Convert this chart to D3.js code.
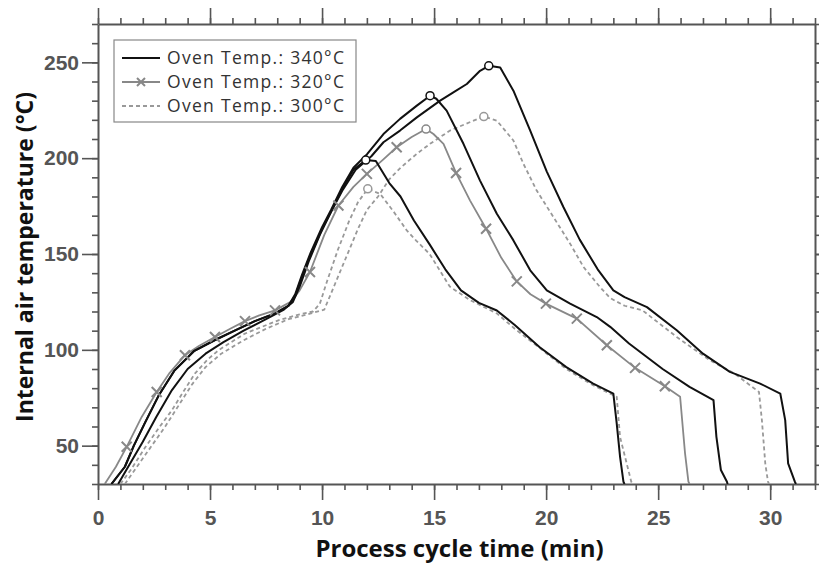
<!DOCTYPE html>
<html>
<head>
<meta charset="utf-8">
<script src="https://cdn.jsdelivr.net/npm/d3@7"></script>
<style>
  body { margin: 0; background: #fff; }
  svg { display: block; }
</style>
</head>
<body>
<svg id="chart"></svg>
<script>
// process cycle time (min), internal air temperature (degC)
var run340a = [[0.6,30],[1.2,39],[1.6,50],[2.1,62],[2.7,76],[3.4,89],[4.3,99.5],[5.2,105],[6.1,110],[7.0,115],[7.9,119],[8.5,123],[8.8,128],[9.1,138],[9.5,150],[10.0,163],[10.4,172],[10.9,184],[11.4,194],[11.95,199],[12.4,198.5],[13.0,187],[13.5,180],[14.1,167.5],[14.8,155],[15.5,142],[16.2,131],[17.0,124.5],[17.8,120.5],[18.6,113],[19.7,101.5],[20.9,91],[22.1,82.4],[23.0,77.2],[23.15,61.6],[23.3,44.2],[23.45,31.2],[23.5,30]];
var run340b = [[0.6,30],[1.2,39],[1.6,50],[2.1,62],[2.7,76],[3.4,89],[4.3,99.5],[5.2,105],[6.1,110],[7.0,115],[7.9,119],[8.5,123],[8.8,129],[9.1,139],[9.5,151],[10.0,164],[10.4,173],[10.9,185],[11.4,195],[12.0,202],[12.74,212.6],[13.48,220.5],[14.23,227.4],[14.82,232.6],[15.1,231],[15.56,224.8],[16.31,207.5],[17.05,188.3],[17.8,171],[18.54,157.1],[19.29,141.5],[20.03,131],[21.07,124.1],[22.26,117.1],[22.86,112],[23.7,103.3],[25.2,90],[26.4,80.7],[27.47,73.8],[27.6,54.6],[27.8,37.3],[28.07,31.2],[28.1,30]];
var run340c = [[0.9,30],[1.4,40],[2.0,52],[2.6,65],[3.3,79],[4.0,90],[4.8,98],[5.6,104],[6.5,110],[7.5,116],[8.3,121],[8.7,125],[9.0,133],[9.4,146],[9.9,160],[10.4,172],[10.9,183],[11.5,194],[12.2,201],[12.74,208.3],[13.48,214.4],[14.23,221.3],[15.27,230],[15.86,234.3],[16.46,238.7],[17.05,245.6],[17.44,248.2],[17.95,247.3],[18.54,235.2],[19.29,214.4],[20.03,193],[20.77,174.5],[21.5,157.5],[22.3,142],[23.0,131],[23.5,127.5],[24.5,122.3],[25.83,110.2],[27.0,98],[28.2,88.5],[29.55,82.4],[30.45,77.2],[30.67,63.3],[30.8,40.8],[31.1,31.2],[31.15,30]];
var run320 = [[0.3,30],[0.8,39],[1.28,49.4],[1.95,65],[2.62,78],[3.2,88],[3.88,97.2],[4.5,102],[5.22,106.7],[5.9,111],[6.56,115],[7.2,118],[7.9,120.6],[8.6,125],[9.0,131],[9.46,140.6],[10.1,160],[10.73,175.3],[11.4,185],[12.0,191.8],[12.7,199],[13.33,205.7],[14.0,211],[14.64,215.2],[14.97,212.6],[15.42,207.5],[15.98,192.3],[16.6,178],[17.32,163.2],[18.0,148],[18.69,135.7],[19.3,129],[19.99,124.1],[21.37,116.3],[22.71,102.4],[23.97,90.6],[25.3,81],[25.98,75.5],[26.2,46],[26.35,31.2],[26.4,30]];
var marks320 = [[1.28,49.4],[2.62,78],[3.88,97.2],[5.22,106.7],[6.56,115],[7.9,120.6],[9.46,140.6],[10.73,175.3],[12.0,191.8],[13.33,205.7],[15.98,192.3],[17.32,163.2],[18.69,135.7],[19.99,124.1],[21.37,116.3],[22.71,102.4],[23.97,90.6],[25.3,81]];
var run300a = [[1.0,30],[1.5,38],[2.1,49],[2.7,59],[3.3,68.5],[3.8,78],[4.33,87.7],[4.9,95],[5.4,100],[6.56,108.5],[8.05,115.4],[9.0,118.5],[9.6,120],[9.9,124],[10.2,135],[10.7,152],[11.2,167],[11.6,177],[12.04,184],[12.59,181.4],[13.2,172],[13.78,162.3],[14.2,157],[14.8,150],[15.7,133],[16.6,126],[17.8,119],[18.6,111],[19.6,102],[20.9,90],[22.1,81.5],[23.15,75.5],[23.3,54.5],[23.8,31.2],[23.85,30]];
var run300b = [[1.2,30],[1.8,40],[2.4,50],[3.0,60],[3.6,71],[4.2,82],[4.8,91],[5.5,98],[6.5,105],[7.5,111],[8.5,116],[9.5,119],[10.1,121],[10.6,135],[11.1,149],[11.6,163],[12.0,173],[12.5,180],[13.0,189],[13.5,195],[14.2,202],[14.82,207.5],[15.71,214.4],[16.76,219.6],[17.22,221.7],[17.8,219.6],[18.54,209.2],[18.99,197],[19.58,183.1],[20.33,169.2],[21.07,155.4],[21.67,143.2],[22.4,132.8],[22.86,127],[23.5,123],[24.3,120.6],[25.83,106.7],[27.3,94.6],[28.4,87.7],[29.5,78],[29.63,63.3],[29.78,40.8],[29.9,31.2],[29.95,30]];

var xMajor = [0, 5, 10, 15, 20, 25, 30];
var yMajor = [50, 100, 150, 200, 250];
var legendLabels = ["Oven Temp.: 340\u00B0C", "Oven Temp.: 320\u00B0C", "Oven Temp.: 300\u00B0C"];

var width = 819, height = 563;
var margin = { top: 24, right: 4, bottom: 79, left: 98 };

var svg = d3.select("#chart")
    .attr("width", width)
    .attr("height", height)
    .style("font-family", "'Open Sans', 'DejaVu Sans', sans-serif");

var x = d3.scaleLinear().domain([0, 32]).range([margin.left, width - margin.right]);
var y = d3.scaleLinear().domain([30, 270]).range([height - margin.bottom, margin.top]);

var xMinor = d3.range(0, 33, 1);
var yMinor = d3.range(30, 271, 10);

// clip for the curves
svg.append("clipPath").attr("id", "plotclip")
    .append("rect")
    .attr("x", x(0)).attr("y", y(270))
    .attr("width", x(32) - x(0)).attr("height", y(30) - y(270));

function styleAxis(g)
{
    g.select(".domain").attr("stroke", "#555").attr("stroke-width", 2);
    g.selectAll(".tick line").attr("stroke", "#555").attr("stroke-width", 1.6);
    g.selectAll(".tick text")
        .attr("fill", "#555")
        .style("font-size", "21px")
        .style("font-weight", "700");
}

// minor + major ticks on all four sides
var axes = [
    { ax: d3.axisBottom(x), tr: "translate(0," + y(30) + ")", minor: xMinor, major: xMajor, labels: true, pad: 10 },
    { ax: d3.axisTop(x), tr: "translate(0," + y(270) + ")", minor: xMinor, major: xMajor, labels: false, pad: 4 },
    { ax: d3.axisLeft(y), tr: "translate(" + x(0) + ",0)", minor: yMinor, major: yMajor, labels: true, pad: 3 },
    { ax: d3.axisRight(y), tr: "translate(" + x(32) + ",0)", minor: yMinor, major: yMajor, labels: false, pad: 4 }
];

axes.forEach(function(a)
{
    var gm = svg.append("g").attr("transform", a.tr)
        .call(a.ax.tickValues(a.minor).tickSize(6).tickSizeOuter(0).tickFormat(""));
    styleAxis(gm);

    a.ax.tickValues(a.major).tickSize(16).tickSizeOuter(0)
        .tickFormat(a.labels ? d3.format("d") : "")
        .tickPadding(a.pad);
    var gM = svg.append("g").attr("transform", a.tr).call(a.ax);
    styleAxis(gM);
    gM.select(".domain").remove();
});

// axis titles
svg.append("text")
    .attr("x", (x(0) + x(32)) / 2 + 3)
    .attr("y", 557)
    .attr("text-anchor", "middle")
    .style("font-size", "24px")
    .style("font-weight", "700")
    .attr("fill", "#111")
    .text("Process cycle time (min)");

svg.append("text")
    .attr("transform", "translate(33," + ((y(30) + y(270)) / 2 + 3) + ") rotate(-90)")
    .attr("text-anchor", "middle")
    .style("font-size", "23px")
    .style("font-weight", "700")
    .attr("fill", "#111")
    .text("Internal air temperature (\u00B0C)");

var line = d3.line()
    .x(function(d) { return x(d[0]); })
    .y(function(d) { return y(d[1]); });

var plot = svg.append("g").attr("clip-path", "url(#plotclip)");

var series = [
    { data: run300a, color: "#999", dash: "4,3", width: 1.8 },
    { data: run300b, color: "#999", dash: "4,3", width: 1.8 },
    { data: run320, color: "#888", dash: null, width: 1.8 },
    { data: run340a, color: "#111", dash: null, width: 2 },
    { data: run340b, color: "#111", dash: null, width: 2 },
    { data: run340c, color: "#111", dash: null, width: 2 }
];

series.forEach(function(s)
{
    plot.append("path")
        .datum(s.data)
        .attr("d", line)
        .attr("fill", "none")
        .attr("stroke", s.color)
        .attr("stroke-width", s.width)
        .attr("stroke-dasharray", s.dash)
        .attr("stroke-linejoin", "round");
});

function drawCross(g, cx, cy, r, color)
{
    g.append("path")
        .attr("d", "M" + (cx - r) + "," + (cy - r) + "L" + (cx + r) + "," + (cy + r) +
                   "M" + (cx - r) + "," + (cy + r) + "L" + (cx + r) + "," + (cy - r))
        .attr("stroke", color)
        .attr("stroke-width", 2)
        .attr("fill", "none");
}

marks320.forEach(function(d)
{
    drawCross(plot, x(d[0]), y(d[1]), 5, "#888");
});

// open circles at each peak
series.forEach(function(s)
{
    var peak = d3.greatest(s.data, function(d) { return d[1]; });
    plot.append("circle")
        .attr("cx", x(peak[0]))
        .attr("cy", y(peak[1]))
        .attr("r", 4)
        .attr("fill", "#fff")
        .attr("stroke", s.color)
        .attr("stroke-width", 1.5);
});

// legend
var legend = svg.append("g");
legend.append("rect")
    .attr("x", 114).attr("y", 40)
    .attr("width", 242).attr("height", 82)
    .attr("fill", "#fff")
    .attr("stroke", "#888")
    .attr("stroke-width", 1.2);

var legendStyles = [
    { color: "#111", dash: null, cross: false },
    { color: "#888", dash: null, cross: true },
    { color: "#999", dash: "4,3", cross: false }
];

for (var i = 0; i < legendLabels.length; i++)
{
    var ly = 58 + i * 24;
    var st = legendStyles[i];
    legend.append("line")
        .attr("x1", 122).attr("x2", 160)
        .attr("y1", ly).attr("y2", ly)
        .attr("stroke", st.color)
        .attr("stroke-width", 2)
        .attr("stroke-dasharray", st.dash);
    if (st.cross) drawCross(legend, 141, ly, 4, st.color);

    legend.append("text")
        .attr("x", 167)
        .attr("y", ly + 6)
        .style("font-size", "17.5px")
        .style("letter-spacing", "1.3px")
        .attr("fill", "#333")
        .text(legendLabels[i]);
}
</script>
</body>
</html>
